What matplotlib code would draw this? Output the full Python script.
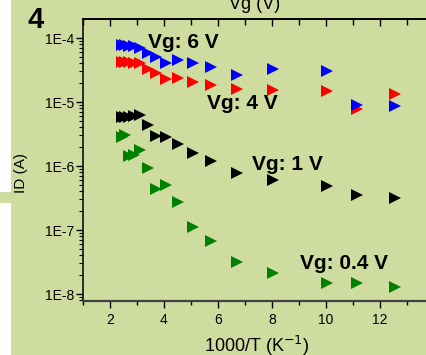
import numpy as np
import matplotlib
matplotlib.use('Agg')
import matplotlib.pyplot as plt
from matplotlib.patches import Rectangle
from matplotlib.ticker import FixedLocator, LogLocator, FuncFormatter, NullFormatter

plt.rcParams['font.family'] = ['Liberation Sans', 'DejaVu Sans']

# 1000/T (K^-1), same temperatures for every gate voltage
inv_t = [2.43, 2.56, 2.72, 2.88, 3.12, 3.39, 3.70, 4.06, 4.50, 5.06,
         5.75, 6.70, 8.04, 10.04, 11.15, 12.54]

# drain current (A)
id_6v = [7.9e-5, 7.7e-5, 7.6e-5, 7.4e-5, 7.1e-5, 5.9e-5, 5.1e-5, 4.0e-5,
         4.5e-5, 4.07e-5, 3.5e-5, 2.6e-5, 3.3e-5, 3.05e-5, 8.98e-6, 8.66e-6]
id_4v = [4.26e-5, 4.26e-5, 4.2e-5, 4.1e-5, 4.0e-5, 3.22e-5, 2.82e-5, 2.31e-5,
         2.37e-5, 2.05e-5, 1.86e-5, 1.57e-5, 1.54e-5, 1.49e-5, 7.76e-6, 1.31e-5]
id_1v = [5.83e-6, 5.83e-6, 5.85e-6, 5.95e-6, 6.2e-6, 4.3e-6, 2.94e-6, 2.84e-6,
         2.22e-6, 1.6e-6, 1.2e-6, 7.9e-7, 6.04e-7, 4.82e-7, 3.5e-7, 3.19e-7]
id_04v = [2.89e-6, 3.0e-6, 1.43e-6, 1.48e-6, 1.78e-6, 9.3e-7, 4.4e-7, 5.05e-7,
          2.74e-7, 1.12e-7, 6.76e-8, 3.16e-8, 2.14e-8, 1.47e-8, 1.47e-8, 1.29e-8]

x_major = [2, 4, 6, 8, 10, 12]
x_minor = [1, 3, 5, 7, 9, 11, 13]

bg = '#CEDD9F'
W, H = 426, 355

fig = plt.figure(figsize=(W / 100, H / 100), dpi=100, facecolor=bg)
fig.patches.append(Rectangle((0, 0), 11 / W, 1, transform=fig.transFigure,
                             facecolor='white', edgecolor='none', zorder=0))
fig.patches.append(Rectangle((0, (H - 203) / H), 11 / W, 11 / H, transform=fig.transFigure,
                             facecolor=bg, edgecolor='none', zorder=0))

# axes runs past the right edge like in the cropped original
ax = fig.add_axes([83 / W, (H - 301) / H, (440 - 83) / W, 282 / H])
ax.set_facecolor(bg)
ax.set_yscale('log')
ax.set_xlim(1, 1 + 357 / 27)
ax.set_ylim(10 ** (-8 - 7 / 64), 10 ** (-4 + 19 / 64))

ms = 8
ax.plot(inv_t, id_1v, ls='none', marker='>', ms=ms, mew=0, color='black')
ax.plot(inv_t, id_04v, ls='none', marker='>', ms=ms, mew=0, color='#008000')
ax.plot(inv_t, id_4v, ls='none', marker='>', ms=ms, mew=0, color='#FF0000')
ax.plot(inv_t, id_6v, ls='none', marker='>', ms=ms, mew=0, color='#0000FF')

ax.spines['right'].set_visible(False)
ax.spines['left'].set_linewidth(1.1)
ax.spines['top'].set_linewidth(1.2)
ax.spines['bottom'].set_linewidth(1.6)
ax.spines['bottom'].set_color('#404040')

ax.xaxis.set_major_locator(FixedLocator(x_major))
ax.xaxis.set_minor_locator(FixedLocator(x_minor))
ax.yaxis.set_major_locator(LogLocator(base=10))
ax.yaxis.set_minor_locator(LogLocator(base=10, subs=np.arange(2, 10)))
ax.yaxis.set_minor_formatter(NullFormatter())
ax.yaxis.set_major_formatter(FuncFormatter(lambda v, p: '1E%d' % round(np.log10(v))))

ax.tick_params(axis='x', which='major', direction='out', length=5, width=1, pad=4, labelsize=10)
ax.tick_params(axis='x', which='minor', direction='out', length=3, width=1)
ax.tick_params(axis='y', which='major', direction='out', length=5, width=1, pad=1, labelsize=10)
ax.tick_params(axis='y', which='minor', direction='out', length=3, width=0.8)

top = ax.secondary_xaxis('top')
top.xaxis.set_major_locator(FixedLocator(x_major))
top.xaxis.set_minor_locator(FixedLocator(x_minor))
top.tick_params(which='major', direction='in', length=5, width=1, labeltop=False)
top.tick_params(which='minor', direction='in', length=4, width=1)
top.spines['top'].set_linewidth(1.2)

fig.text(257 / W, (H - 352) / H, '1000/T (K$^{-1}$)', ha='center', va='baseline', fontsize=13)
fig.text(255 / W, (H - 9) / H, 'Vg (V)', ha='center', va='baseline', fontsize=13)
fig.text(21 / W, (H - 173) / H, 'ID (A)', ha='center', va='center', rotation=90, fontsize=11)
fig.text(27 / W, (H - 28) / H, '4', ha='left', va='baseline', fontsize=21, fontweight='bold')

lab = dict(ha='left', va='baseline', fontsize=15, fontweight='bold')
ax.text(3.41, 6.9e-5, 'Vg: 6 V', **lab)
ax.text(5.59, 7.69e-6, 'Vg: 4 V', **lab)
ax.text(7.26, 8.66e-7, 'Vg: 1 V', **lab)
ax.text(9.04, 2.46e-8, 'Vg: 0.4 V', **lab)

fig.savefig('out.png', dpi=100, facecolor=bg)
